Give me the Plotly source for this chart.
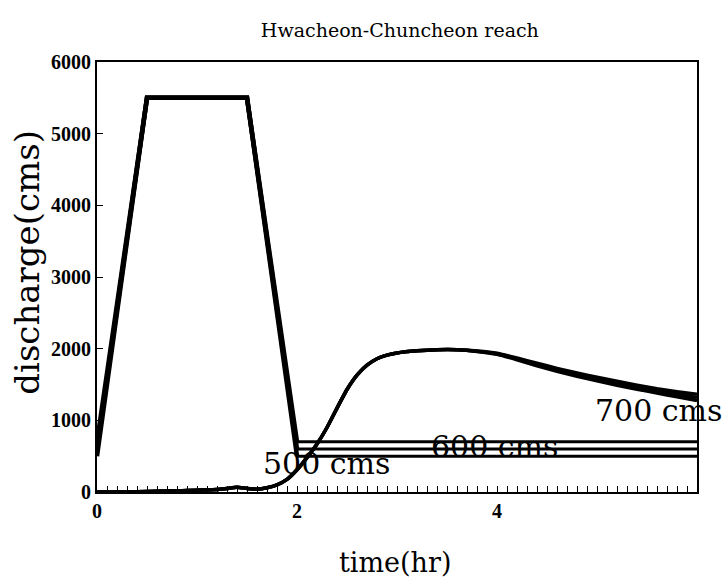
import plotly.graph_objects as go

# ---- text ----
chart_title = "Hwacheon-Chuncheon reach"
x_title = "time(hr)"
y_title = "discharge(cms)"
x_tick_vals = [0, 2, 4]
x_tick_text = ["0", "2", "4"]
y_tick_vals = [0, 1000, 2000, 3000, 4000, 5000, 6000]
y_tick_text = ["0", "1000", "2000", "3000", "4000", "5000", "6000"]
case_labels = ["500 cms", "600 cms", "700 cms"]

# ---- upstream (inflow) hydrographs ----
inflow_time = [0.0, 0.5, 1.5, 2.0, 6.0]
inflow_500 = [500, 5500, 5500, 500, 500]
inflow_600 = [600, 5500, 5500, 600, 600]
inflow_700 = [700, 5500, 5500, 700, 700]

# ---- downstream (outflow) hydrographs ----
outflow_time = [0.0, 0.2, 0.4, 0.6, 0.8, 1.0, 1.2, 1.3, 1.4, 1.5, 1.6, 1.7, 1.8,
                1.9, 2.0, 2.1, 2.2, 2.3, 2.4, 2.5, 2.6, 2.7, 2.8, 2.9, 3.0, 3.2,
                3.4, 3.6, 3.8, 4.0, 4.2, 4.4, 4.6, 4.8, 5.0, 5.2, 5.4, 5.6, 5.8, 6.0]
outflow_500 = [0, 0, 5, 10, 15, 25, 35, 50, 65, 50, 40, 60, 100,
               175, 310, 480, 670, 900, 1170, 1430, 1630, 1770, 1860, 1910, 1940, 1970,
               1985, 1985, 1962, 1922, 1845, 1762, 1685, 1615, 1550, 1490, 1435, 1380, 1328, 1275]
outflow_600 = [0, 0, 5, 10, 15, 25, 35, 50, 65, 50, 40, 60, 100,
               175, 310, 480, 670, 900, 1170, 1430, 1630, 1770, 1860, 1910, 1940, 1970,
               1985, 1985, 1965, 1930, 1858, 1780, 1705, 1638, 1575, 1517, 1462, 1410, 1365, 1320]
outflow_700 = [0, 0, 5, 10, 15, 25, 35, 50, 65, 50, 40, 60, 100,
               175, 310, 480, 670, 900, 1170, 1430, 1630, 1770, 1860, 1910, 1940, 1970,
               1985, 1985, 1968, 1938, 1870, 1797, 1725, 1660, 1600, 1545, 1490, 1440, 1400, 1365]

SERIF = "DejaVu Serif"
TIMES = "Liberation Serif"
fig = go.Figure()

for ys in (inflow_500, inflow_600, inflow_700):
    # rising limb, plateau and falling limb
    fig.add_trace(go.Scatter(x=inflow_time[:4], y=ys[:4], mode="lines",
                             line=dict(color="black", width=4.5),
                             showlegend=False, hoverinfo="skip"))
    # constant base flow afterwards
    fig.add_trace(go.Scatter(x=inflow_time[3:], y=ys[3:], mode="lines",
                             line=dict(color="black", width=3),
                             showlegend=False, hoverinfo="skip"))

for ys in (outflow_500, outflow_600, outflow_700):
    fig.add_trace(go.Scatter(x=outflow_time, y=ys, mode="lines",
                             line=dict(color="black", width=3.5, shape="spline", smoothing=0.4),
                             showlegend=False, hoverinfo="skip"))

# case labels (500 / 600 inside the plot, 700 hanging over the right border)
fig.add_annotation(x=2.29, y=400, text=case_labels[0], showarrow=False,
                   xanchor="center", yanchor="middle",
                   font=dict(family=SERIF, size=30, color="black"))
fig.add_annotation(x=3.97, y=628, text=case_labels[1], showarrow=False,
                   xanchor="center", yanchor="middle",
                   font=dict(family=SERIF, size=30, color="black"))
fig.add_annotation(xref="paper", x=1.045, y=1140, text=case_labels[2], showarrow=False,
                   xanchor="right", yanchor="middle",
                   font=dict(family=SERIF, size=30, color="black"))

# axis titles placed as annotations for exact positioning
fig.add_annotation(xref="paper", yref="paper", x=-0.117, y=0.535, text=y_title,
                   textangle=-90, showarrow=False, xanchor="center", yanchor="middle",
                   font=dict(family=SERIF, size=34, color="black"))
fig.add_annotation(xref="paper", yref="paper", x=0.497, y=-0.165, text=x_title,
                   showarrow=False, xanchor="center", yanchor="middle",
                   font=dict(family=SERIF, size=27, color="black"))

fig.update_layout(
    width=727, height=579,
    margin=dict(l=97, r=30, t=62, b=87, autoexpand=False),
    paper_bgcolor="white", plot_bgcolor="white",
    title=dict(text=chart_title, x=0.55, xanchor="center", y=0.948, yanchor="middle",
               font=dict(family=SERIF, size=19, color="black")),
    xaxis=dict(range=[0, 6.0], tickvals=x_tick_vals, ticktext=x_tick_text,
               ticks="inside", ticklen=6, tickwidth=1, tickcolor="black",
               minor=dict(tickmode="linear", tick0=0, dtick=0.1, ticks="inside",
                          ticklen=6, tickwidth=1, tickcolor="black"),
               showline=True, linewidth=2, linecolor="black", mirror=True,
               showgrid=False, zeroline=False, automargin=False,
               tickfont=dict(family=TIMES, size=20, color="black", weight="bold")),
    yaxis=dict(range=[0, 6000], tickvals=y_tick_vals, ticktext=y_tick_text,
               ticks="inside", ticklen=6, tickwidth=1, tickcolor="black",
               showline=True, linewidth=2, linecolor="black", mirror=True,
               showgrid=False, zeroline=False, automargin=False,
               tickfont=dict(family=TIMES, size=20, color="black", weight="bold")),
)

fig.write_html("out.html",
               config={"displayModeBar": False},
               post_script="document.body.style.margin='0px';document.body.style.overflow='hidden';")
